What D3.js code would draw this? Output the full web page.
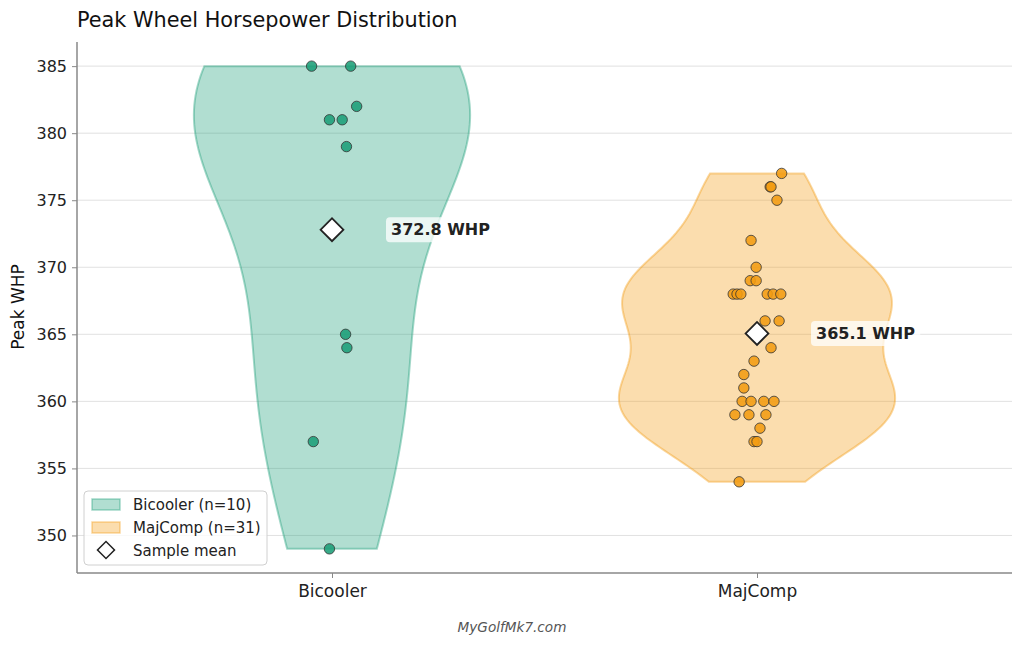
<!DOCTYPE html>
<html>
<head>
<meta charset="utf-8">
<script src="https://cdn.jsdelivr.net/npm/d3@7"></script>
<style>
  html, body { margin: 0; padding: 0; background: #fff; }
  svg { display: block; font-family: "DejaVu Sans", sans-serif; }
</style>
</head>
<body>
<svg id="chart" width="1024" height="646"></svg>
<script>
// ---------- data ----------
const categories = ["Bicooler", "MajComp"];
const bicoolerValues = [385, 385, 382, 381, 381, 379, 365, 364, 357, 349];
const bicoolerJitter = [-0.048, 0.044, 0.058, -0.006, 0.024, 0.034, 0.032, 0.035, -0.044, -0.006];
const majcompValues = [377, 376, 376, 375, 372, 370, 369, 369, 368, 368, 368, 368, 368, 368,
  366, 366, 364, 363, 362, 361, 360, 360, 360, 360, 359, 359, 359, 358, 357, 357, 354];
const majcompJitter = [0.058, 0.031, 0.033, 0.047, -0.014, -0.002, -0.016, -0.002,
  -0.056, -0.047, -0.038, 0.024, 0.038, 0.056, 0.019, 0.052, 0.033, -0.007, -0.031,
  -0.031, -0.035, -0.014, 0.016, 0.040, -0.052, -0.019, 0.021, 0.007, -0.007, 0.0, -0.042];
const seriesColors = ["#1b9e77", "#f39c12"];
const yTicks = [350, 355, 360, 365, 370, 375, 380, 385];
const titleText = "Peak Wheel Horsepower Distribution";
const yLabel = "Peak WHP";
const footerText = "MyGolfMk7.com";
const legendLabels = ["Bicooler (n=10)", "MajComp (n=31)", "Sample mean"];

const groups = [
  { name: categories[0], pos: 1, values: bicoolerValues, jitter: bicoolerJitter, color: seriesColors[0] },
  { name: categories[1], pos: 2, values: majcompValues, jitter: majcompJitter, color: seriesColors[1] }
];

// ---------- layout ----------
const svg = d3.select("#chart");
const M = { left: 77, right: 1012, top: 42, bottom: 573 };
const x = d3.scaleLinear().domain([0.4, 2.6]).range([M.left, M.right]);
const y = d3.scaleLinear().domain([347.2, 386.8]).range([M.bottom, M.top]);
const halfWidth = 0.325; // in x units

// grid
svg.append("g").selectAll("line").data(yTicks).join("line")
  .attr("x1", M.left).attr("x2", M.right)
  .attr("y1", d => y(d)).attr("y2", d => y(d))
  .attr("stroke", "#d9d9d9").attr("stroke-width", 0.8);

// KDE (Gaussian, Scott's rule) like matplotlib violinplot
function kde(values) {
  const n = values.length;
  const sd = d3.deviation(values);
  const bw = sd * Math.pow(n, -1 / 5);
  const lo = d3.min(values), hi = d3.max(values);
  const pts = d3.range(100).map(i => lo + (hi - lo) * i / 99);
  const dens = pts.map(p => {
    let s = 0;
    for (const v of values) { const z = (p - v) / bw; s += Math.exp(-0.5 * z * z); }
    return s / (n * bw * Math.sqrt(2 * Math.PI));
  });
  const mx = d3.max(dens);
  return pts.map((p, i) => ({ v: p, w: dens[i] / mx * halfWidth }));
}

groups.forEach(g => {
  const k = kde(g.values);
  const area = d3.area()
    .y(d => y(d.v))
    .x0(d => x(g.pos - d.w))
    .x1(d => x(g.pos + d.w));
  svg.append("path").datum(k)
    .attr("d", area)
    .attr("fill", g.color).attr("fill-opacity", 0.34)
    .attr("stroke", g.color).attr("stroke-opacity", 0.4).attr("stroke-width", 2);
});

// points
groups.forEach(g => {
  svg.append("g").selectAll("circle").data(g.values.map((v, i) => ({ v, j: g.jitter[i] })))
    .join("circle")
    .attr("cx", d => x(g.pos + d.j))
    .attr("cy", d => y(d.v))
    .attr("r", 5.2)
    .attr("fill", g.color).attr("fill-opacity", 0.88)
    .attr("stroke", "#333").attr("stroke-width", 0.8);
});

// means
const diamond = d3.symbol().type(d3.symbolSquare).size(260);
groups.forEach(g => {
  const m = d3.mean(g.values);
  svg.append("path")
    .attr("d", diamond())
    .attr("transform", `translate(${x(g.pos)},${y(m)}) rotate(45)`)
    .attr("fill", "#fff").attr("stroke", "#222").attr("stroke-width", 1.8);
  const label = `${m.toFixed(1)} WHP`;
  const lx = x(g.pos) + 59, ly = y(m);
  const t = svg.append("text")
    .attr("x", lx).attr("y", ly).attr("dy", "0.35em")
    .attr("font-size", 16).attr("font-weight", "bold").attr("fill", "#222")
    .text(label);
  const bb = t.node().getBBox();
  svg.insert("rect", () => t.node())
    .attr("x", bb.x - 5).attr("y", bb.y - 3)
    .attr("width", bb.width + 10).attr("height", bb.height + 6)
    .attr("rx", 4).attr("fill", "#fff").attr("fill-opacity", 0.75);
});

// axes
const yAxis = svg.append("g").attr("transform", `translate(${M.left},0)`)
  .call(d3.axisLeft(y).tickValues(yTicks).tickSize(5).tickPadding(5));
const xAxis = svg.append("g").attr("transform", `translate(0,${M.bottom})`)
  .call(d3.axisBottom(x).tickValues(groups.map(g => g.pos)).tickFormat((d, i) => categories[i]).tickSize(5).tickPadding(7));
[yAxis, xAxis].forEach(a => {
  a.select(".domain").attr("stroke", "#888").attr("stroke-width", 1.5);
  a.selectAll(".tick line").attr("stroke", "#888");
  a.selectAll(".tick text").attr("fill", "#222").attr("font-family", "DejaVu Sans, sans-serif");
});
yAxis.selectAll(".tick text").attr("font-size", 16);
xAxis.selectAll(".tick text").attr("font-size", 17);
yAxis.select(".domain").attr("d", `M0,${M.top}V${M.bottom}`);
xAxis.select(".domain").attr("d", `M${M.left},0H${M.right}`);

// title, labels
svg.append("text").attr("x", M.left).attr("y", 27)
  .attr("font-size", 20.8).attr("fill", "#111").text(titleText);
svg.append("text").attr("transform", `translate(24,307) rotate(-90)`)
  .attr("text-anchor", "middle").attr("font-size", 17).attr("fill", "#111").text(yLabel);
svg.append("text").attr("x", 512).attr("y", 632).attr("text-anchor", "middle")
  .attr("font-size", 13.6).attr("font-style", "italic").attr("fill", "#555").text(footerText);

// legend
const lg = svg.append("g").attr("transform", "translate(84,491)");
lg.append("rect").attr("width", 183).attr("height", 74).attr("rx", 4)
  .attr("fill", "#fff").attr("fill-opacity", 0.8).attr("stroke", "#d0d0d0");
groups.forEach((g, i) => {
  lg.append("rect").attr("x", 8).attr("y", 8 + i * 23).attr("width", 28).attr("height", 11)
    .attr("fill", g.color).attr("fill-opacity", 0.34)
    .attr("stroke", g.color).attr("stroke-opacity", 0.4).attr("stroke-width", 1.5);
});
lg.append("path").attr("d", d3.symbol().type(d3.symbolSquare).size(145)())
  .attr("transform", "translate(22,59) rotate(45)")
  .attr("fill", "#fff").attr("stroke", "#222").attr("stroke-width", 1.5);
legendLabels.forEach((t, i) => {
  lg.append("text").attr("x", 49).attr("y", 14 + i * 23).attr("dy", "0.35em")
    .attr("font-size", 15).attr("fill", "#222").text(t);
});
</script>
</body>
</html>
